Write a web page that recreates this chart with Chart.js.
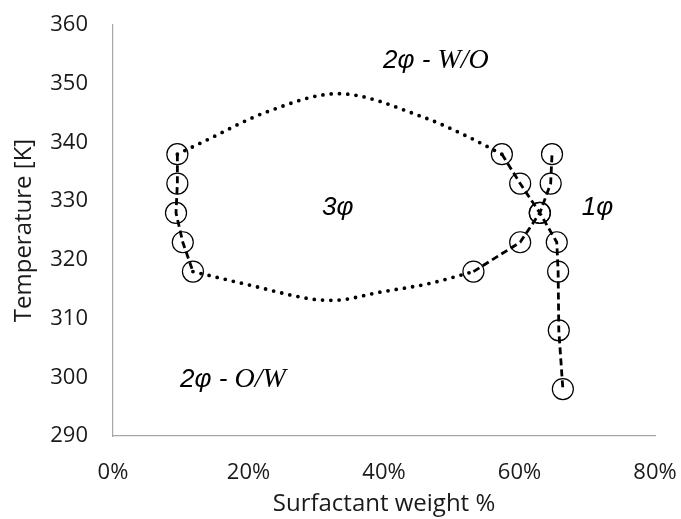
<!DOCTYPE html>
<html>
<head>
<meta charset="utf-8">
<script src="https://cdn.jsdelivr.net/npm/chart.js@4/dist/chart.umd.min.js"></script>
<style>
    html, body { margin: 0; padding: 0; background: #fff; }
    #wrap { width: 681px; height: 519px; }
</style>
</head>
<body>
<div id="wrap"><canvas id="chartPhase"></canvas></div>
<script>
// Phase boundaries: surfactant weight % vs temperature [K]
const leftBoundaryX = [9.5, 9.5, 9.3, 10.3, 11.8];
const leftBoundaryT = [338, 333, 328, 323, 318];

const woBoundaryX = [57.4, 60.1, 63.0, 65.5, 65.7, 65.8, 66.4];
const woBoundaryT = [338, 333, 328, 323, 318, 308, 298];

const owBoundaryX = [53.2, 60.1, 63.0, 64.6, 64.8];
const owBoundaryT = [318, 323, 328, 333, 338];

// smooth guides closing the 3-phase region
const upperCurveX = [9.5, 13.3, 22.7, 33.2, 45.8, 52.7, 57.4];
const upperCurveT = [338, 340.1, 345.2, 348.3, 344.3, 340.8, 338];
const lowerCurveX = [11.8, 19.8, 29.5, 32.5, 39.4, 46.8, 53.2];
const lowerCurveT = [318, 315.8, 313.3, 313.1, 314.5, 316.0, 318];

const xTicks = [0, 20, 40, 60, 80];
const yTicks = [290, 300, 310, 320, 330, 340, 350, 360];

// region labels, anchored at (weight %, K) of the text start / baseline
const phaseLabels = [
    { x: 39.85, t: 352.7, parts: [["2φ - ", "sans"], ["W/O", "serif"]] },
    { x: 30.85, t: 327.7, parts: [["3φ", "sans"]] },
    { x: 69.2,  t: 327.7, parts: [["1φ", "sans"]] },
    { x: 9.9,   t: 298.3, parts: [["2φ - ", "sans"], ["O/W", "serif"]] }
];

const zip = (xs, ys) => xs.map((x, i) => ({ x: x, y: ys[i] }));

const labelFonts = {
    sans: 'italic 26px "Liberation Sans"',
    serif: 'italic 28px "Liberation Serif"'
};

const phaseLabelPlugin = {
    id: "phaseLabels",
    afterDatasetsDraw(chart) {
        const ctx = chart.ctx;
        const sx = chart.scales.x, sy = chart.scales.y;
        ctx.save();
        ctx.fillStyle = "#000";
        ctx.textBaseline = "alphabetic";
        ctx.textAlign = "left";
        phaseLabels.forEach(l => {
            let px = sx.getPixelForValue(l.x);
            const py = sy.getPixelForValue(l.t);
            l.parts.forEach(([txt, face]) => {
                ctx.font = labelFonts[face];
                ctx.fillText(txt, px, py);
                px += ctx.measureText(txt).width;
            });
        });
        ctx.restore();
    }
};

const boundaryStyle = {
    showLine: true,
    borderColor: "#000",
    borderWidth: 2.8,
    borderDash: [7, 4],
    tension: 0,
    pointRadius: 10.5,
    pointBorderWidth: 1.2,
    pointBorderColor: "#000",
    pointBackgroundColor: "rgba(0,0,0,0)"
};

const curveStyle = {
    showLine: true,
    borderColor: "#000",
    borderWidth: 3.8,
    borderDash: [0, 8.3],
    borderCapStyle: "round",
    cubicInterpolationMode: "monotone",
    pointRadius: 0
};

const tickFont = { family: "'Open Sans', sans-serif", size: 22 };
const titleFont = { family: "'Open Sans', sans-serif", size: 24 };

new Chart(document.getElementById("chartPhase"), {
    type: "scatter",
    data: {
        datasets: [
            { data: zip(upperCurveX, upperCurveT), ...curveStyle },
            { data: zip(lowerCurveX, lowerCurveT), ...curveStyle },
            { data: zip(leftBoundaryX, leftBoundaryT), ...boundaryStyle },
            { data: zip(woBoundaryX, woBoundaryT), ...boundaryStyle },
            { data: zip(owBoundaryX, owBoundaryT), ...boundaryStyle }
        ]
    },
    options: {
        responsive: true,
        maintainAspectRatio: false,
        animation: false,
        layout: { padding: { top: 25, right: 26, left: 0, bottom: 0 } },
        plugins: { legend: { display: false }, tooltip: { enabled: false } },
        scales: {
            x: {
                type: "linear",
                min: 0,
                max: 80,
                afterBuildTicks: s => { s.ticks = xTicks.map(v => ({ value: v })); },
                afterFit: s => { s.height = 83; s.paddingLeft = 0; s.paddingRight = 0; },
                ticks: { callback: v => v + "%", font: tickFont, color: "#1a1a1a", padding: 24, maxRotation: 0 },
                grid: { display: false, drawTicks: false },
                border: { display: true, color: "#a6a6a6", width: 1.2 },
                title: { display: true, text: "Surfactant weight %", font: titleFont, color: "#1a1a1a", padding: { top: 0, bottom: 0 } }
            },
            y: {
                min: 290,
                max: 360,
                afterBuildTicks: s => { s.ticks = yTicks.map(v => ({ value: v })); },
                afterFit: s => { s.width = 113; s.paddingTop = 0; s.paddingBottom = 0; },
                ticks: { font: tickFont, color: "#1a1a1a", padding: 25 },
                grid: { display: false, drawTicks: false },
                border: { display: true, color: "#a6a6a6", width: 1.2 },
                title: { display: true, text: "Temperature [K]", font: titleFont, color: "#1a1a1a", padding: { top: 10, bottom: 0 } }
            }
        }
    },
    plugins: [phaseLabelPlugin]
});
</script>
</body>
</html>
